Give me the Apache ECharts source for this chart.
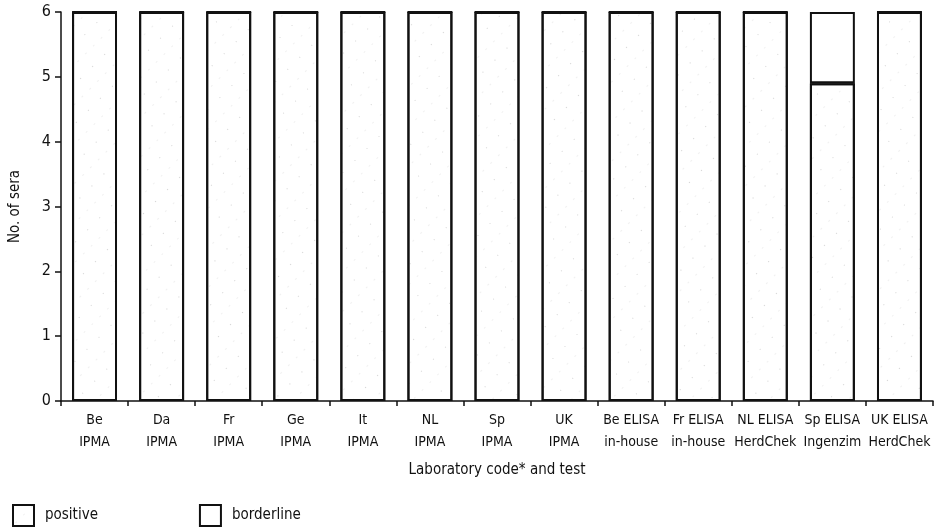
<!DOCTYPE html>
<html>
<head>
<meta charset="utf-8">
<script src="https://cdn.jsdelivr.net/npm/echarts@6/dist/echarts.min.js"></script>
<style>
    html, body { margin: 0; padding: 0; background: #fff; }
    #chart { width: 951px; height: 532px; }
</style>
</head>
<body>
<div id="chart"></div>
<script>
// 数据
var labs = ["Be\nIPMA", "Da\nIPMA", "Fr\nIPMA", "Ge\nIPMA", "It\nIPMA", "NL\nIPMA", "Sp\nIPMA", "UK\nIPMA",
    "Be ELISA\nin-house", "Fr ELISA\nin-house", "NL ELISA\nHerdChek", "Sp ELISA\nIngenzim", "UK ELISA\nHerdChek"];
var positive = [6, 6, 6, 6, 6, 6, 6, 6, 6, 6, 6, 4.9, 6];
var borderline = [0, 0, 0, 0, 0, 0, 0, 0, 0, 0, 0, 1.1, 0];
var yTicks = [0, 1, 2, 3, 4, 5, 6];

(function() {
    var myChart = echarts.init(document.getElementById("chart"));
    var font = "'Liberation Sans Narrow', 'DejaVu Sans Condensed', Arial, sans-serif";

    var option = {
        animation: false,
        grid: {
            left: 57,
            right: 18,
            top: 12,
            bottom: 131
        },
        legend: {
            left: 7,
            bottom: 0,
            icon: 'rect',
            itemWidth: 21,
            itemHeight: 21,
            itemGap: 101,
            textStyle: { fontFamily: font, fontSize: 15, color: "#111", padding: [0, 0, 0, 6] },
            data: ["positive", "borderline"]
        },
        xAxis: {
            type: 'category',
            data: labs,
            name: "Laboratory code* and test",
            nameLocation: 'middle',
            nameGap: 62,
            nameTextStyle: { fontFamily: font, fontSize: 15, color: "#111" },
            axisLine: { lineStyle: { color: "#111", width: 1.5 } },
            axisTick: { show: true, length: 5, lineStyle: { color: "#111", width: 1.5 } },
            axisLabel: {
                fontFamily: font,
                fontSize: 14,
                color: "#111",
                lineHeight: 22,
                margin: 8,
                interval: 0
            }
        },
        yAxis: {
            type: 'value',
            min: 0,
            max: 6,
            interval: 1,
            name: "No. of sera",
            nameLocation: 'middle',
            nameGap: 38,
            nameTextStyle: { fontFamily: font, fontSize: 15, color: "#111" },
            axisLine: { show: true, lineStyle: { color: "#111", width: 1.5 } },
            axisTick: { show: true, length: 6, lineStyle: { color: "#111", width: 1.5 } },
            axisLabel: {
                fontFamily: font,
                fontSize: 16,
                color: "#111",
                margin: 10,
                formatter: function(v) { return yTicks.indexOf(v) >= 0 ? String(v) : ''; }
            },
            splitLine: { show: false }
        },
        series: [{
            name: "positive",
            type: 'bar',
            stack: 'sera',
            barWidth: '67%',
            data: positive,
            itemStyle: {
                color: "#fff",
                borderColor: "#111",
                borderWidth: 2,
                decal: {
                    symbol: 'line',
                    symbolSize: 0.25,
                    color: "rgba(90,90,90,0.35)",
                    dashArrayX: [[2, 9], [3, 14]],
                    dashArrayY: [1, 13],
                    rotation: -Math.PI / 4
                }
            }
        }, {
            name: "borderline",
            type: 'bar',
            stack: 'sera',
            barWidth: '67%',
            data: borderline,
            itemStyle: {
                color: "#fff",
                borderColor: "#111",
                borderWidth: 2
            }
        }]
    };

    myChart.setOption(option);

    window.addEventListener("resize", function() {
        myChart.resize();
    })
})();
</script>
</body>
</html>
